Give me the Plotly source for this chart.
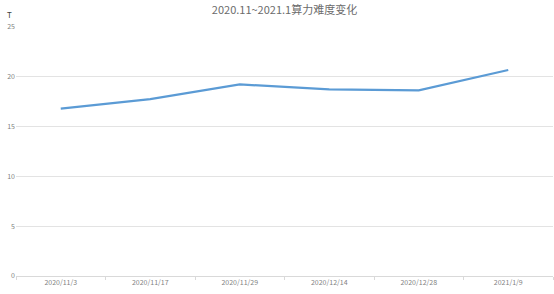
import plotly.graph_objects as go

categories = ["2020/11/3", "2020/11/17", "2020/11/29", "2020/12/14", "2020/12/28", "2021/1/9"]
difficulty = [16.8, 17.75, 19.24, 18.74, 18.64, 20.68]
y_ticks = [0, 5, 10, 15, 20, 25]
title_text = "2020.11~2021.1算力难度变化"
unit_label = "T"

W, H = 554, 294
ml, mr, mt, mb = 16, 1, 27, 18

fig = go.Figure()
fig.add_trace(go.Scatter(
    x=categories, y=difficulty, mode="lines",
    line=dict(color="#5B9BD5", width=2.2),
    hoverinfo="x+y",
))

fig.update_layout(
    width=W, height=H,
    margin=dict(l=ml, r=mr, t=mt, b=mb),
    paper_bgcolor="white", plot_bgcolor="white",
    showlegend=False,
    font=dict(family="Noto Sans CJK SC, Noto Sans, sans-serif", color="#7F7F7F", size=7),
    title=dict(
        text=title_text,
        x=0.5, xref="paper", xanchor="center",
        y=1 - 10.5 / H, yref="container", yanchor="middle",
        font=dict(size=11, color="#6B6B6B", family="Noto Sans CJK SC, sans-serif"),
    ),
    xaxis=dict(
        type="category", range=[-0.5, 5.5],
        tickson="boundaries", ticks="outside", ticklen=3, tickcolor="#D9D9D9",
        showline=True, linecolor="#D9D9D9", linewidth=1,
        showgrid=False, zeroline=False,
        tickfont=dict(size=7, color="#7F7F7F"),
    ),
    yaxis=dict(
        range=[0, 25], tickvals=y_ticks,
        showgrid=True, gridcolor="#E3E3E3", gridwidth=1,
        zeroline=False, showline=False, ticks="",
        tickfont=dict(size=7, color="#7F7F7F"),
    ),
    annotations=[dict(
        text=unit_label, xref="paper", yref="paper",
        x=(9 - ml) / (W - ml - mr), y=(H - mb - 14) / (H - mt - mb),
        xanchor="center", yanchor="middle", showarrow=False,
        font=dict(size=8, color="#404040"),
    )],
)

fig.write_html("out.html")
